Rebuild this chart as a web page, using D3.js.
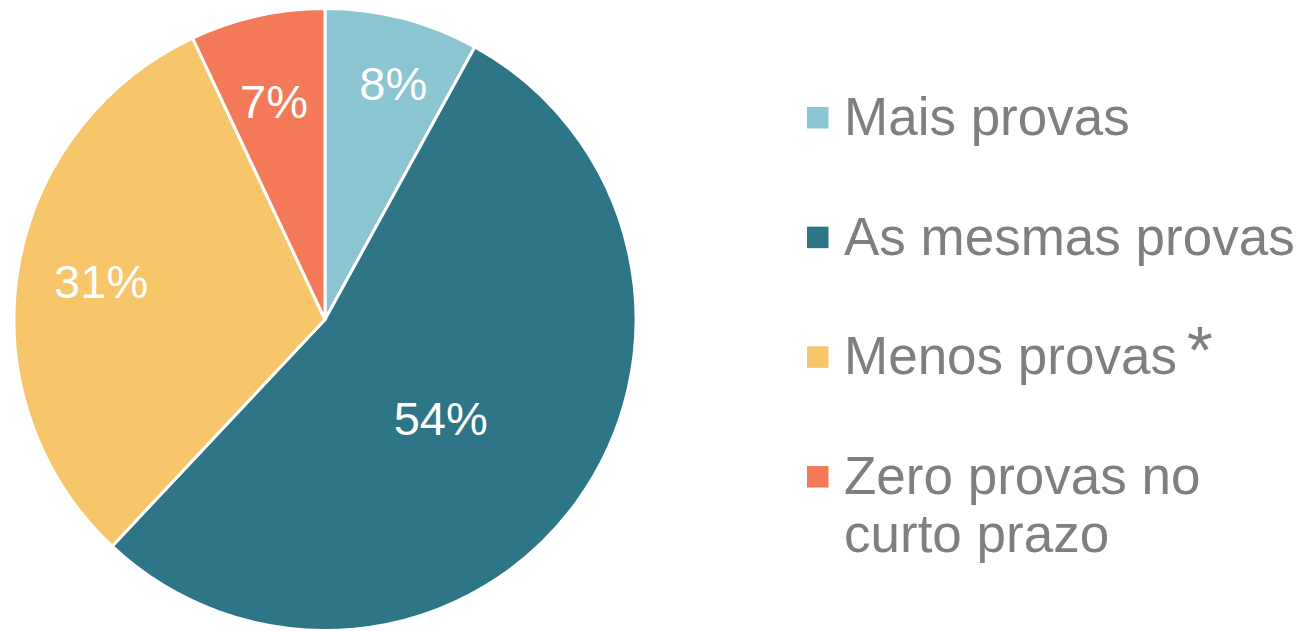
<!DOCTYPE html>
<html>
<head>
<meta charset="utf-8">
<script src="https://cdn.jsdelivr.net/npm/d3@7"></script>
<style>
html,body{margin:0;padding:0;background:#fff;}
svg{display:block;}
</style>
</head>
<body>
<svg id="chart" width="1301" height="631"></svg>
<script>
const categories = ["Mais provas", "As mesmas provas", "Menos provas", "Zero provas no curto prazo"];
const values = [8, 54, 31, 7];
const valueLabels = ["8%", "54%", "31%", "7%"];
const colors = ["#8BC5D1", "#2E7587", "#F7C66B", "#F47958"];
const legendLines = [["Mais provas"], ["As mesmas provas"], ["Menos provas"], ["Zero provas no", "curto prazo"]];

const svg = d3.select("#chart");
const cx = 325, cy = 319.5, R = 311;
const font = "'Liberation Sans', Arial, sans-serif";

const pie = d3.pie().sort(null).value(d => d)(values);
const arc = d3.arc().innerRadius(0).outerRadius(R);
const g = svg.append("g").attr("transform", `translate(${cx},${cy})`);

g.selectAll("path").data(pie).join("path")
  .attr("d", arc)
  .attr("fill", (d, i) => colors[i])
  .attr("stroke", "#fff")
  .attr("stroke-width", 3)
  .attr("stroke-linejoin", "round");

// label placement radii (fraction of R) and angle nudges (radians)
const labelK = [0.79, 0.49, 0.73, 0.72];
const labelNudge = [0.03, 0.08, 0.01, -0.01];
g.selectAll("text.lbl").data(pie).join("text")
  .attr("class", "lbl")
  .attr("transform", (d, i) => {
    const a = (d.startAngle + d.endAngle) / 2 + labelNudge[i];
    const r = R * labelK[i];
    return `translate(${r * Math.sin(a)},${-r * Math.cos(a) + 16.5})`;
  })
  .attr("text-anchor", "middle")
  .attr("font-family", font)
  .attr("font-size", 47)
  .attr("fill", "#fff")
  .text((d, i) => valueLabels[i]);

// legend
const legendY = d3.scalePoint().domain(categories).range([135, 494]);
const lg = svg.append("g");
categories.forEach((c, i) => {
  const y = legendY(c);
  lg.append("rect")
    .attr("x", 807).attr("y", y - 28).attr("width", 21.5).attr("height", 21.5)
    .attr("fill", colors[i]);
  const t = lg.append("text")
    .attr("x", 844).attr("y", y)
    .attr("font-family", font).attr("font-size", 53)
    .attr("fill", "#7F7F7F");
  legendLines[i].forEach((line, j) => {
    t.append("tspan").attr("x", 844).attr("dy", j === 0 ? 0 : 58).text(line);
  });
  if (i === 2) {
    lg.append("text")
      .attr("x", 1187).attr("y", y - 1)
      .attr("font-family", font).attr("font-size", 66)
      .attr("fill", "#7F7F7F").text("*");
  }
});
</script>
</body>
</html>
